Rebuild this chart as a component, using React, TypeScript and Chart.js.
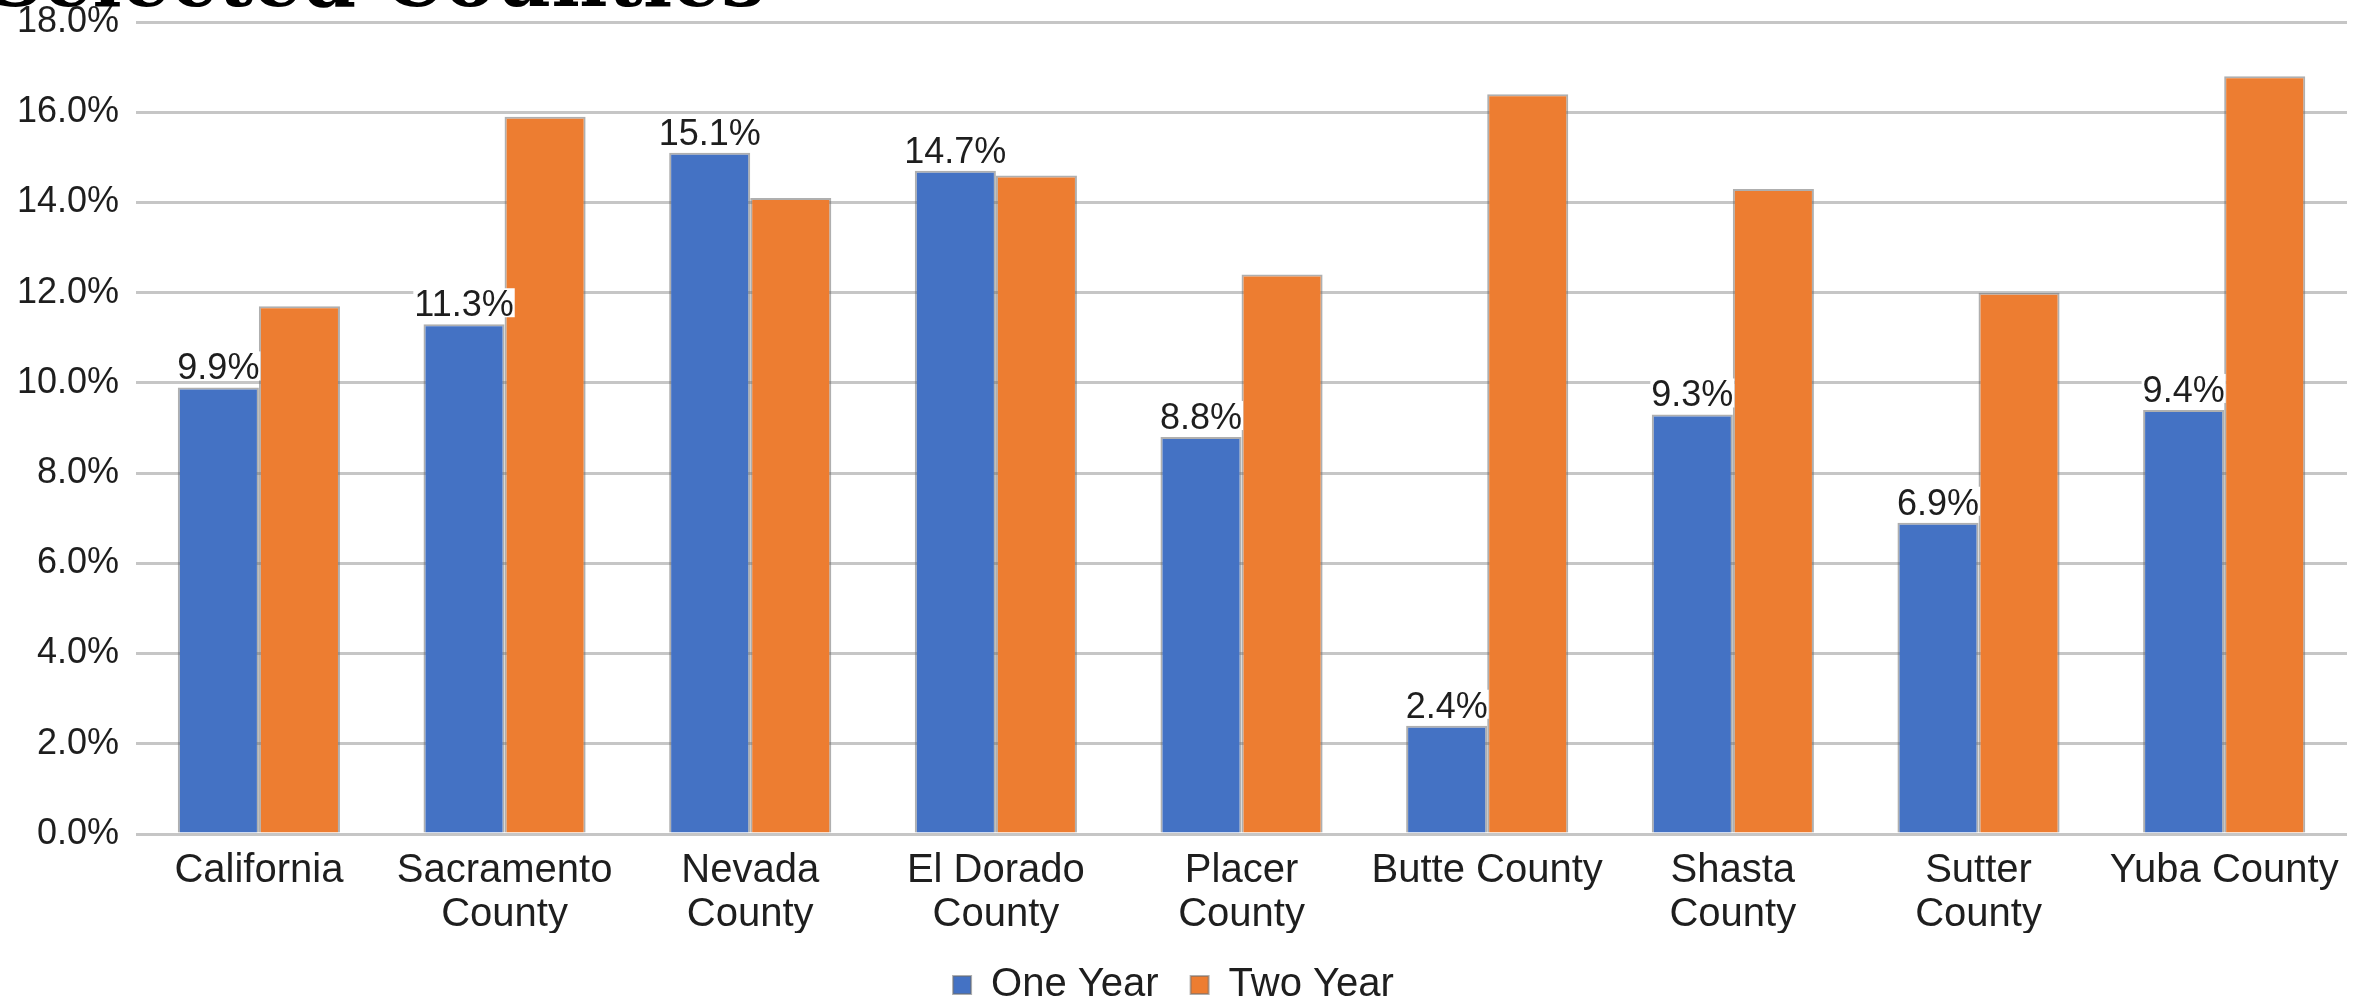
import React, { useEffect, useRef } from "react";
import { Chart, registerables } from "chart.js";

Chart.register(...registerables);

const categories = [
  "California",
  ["Sacramento", "County"],
  ["Nevada", "County"],
  ["El Dorado", "County"],
  ["Placer", "County"],
  "Butte County",
  ["Shasta", "County"],
  ["Sutter", "County"],
  "Yuba County",
];
const oneYear = [9.9, 11.3, 15.1, 14.7, 8.8, 2.4, 9.3, 6.9, 9.4];
const twoYear = [11.7, 15.9, 14.1, 14.6, 12.4, 16.4, 14.3, 12.0, 16.8];
const yTickLabels = ["0.0%", "2.0%", "4.0%", "6.0%", "8.0%", "10.0%", "12.0%", "14.0%", "16.0%", "18.0%"];

const FONT = "'Liberation Sans', Arial, sans-serif";
const TEXT = "#1e1e1e";

// labels above the blue bars, on a white box like the original
const barLabels = {
  id: "barLabels",
  afterDatasetsDraw(chart: any) {
    const ctx = chart.ctx;
    const meta = chart.getDatasetMeta(0);
    ctx.save();
    ctx.font = `36px ${FONT}`;
    ctx.textAlign = "center";
    ctx.textBaseline = "alphabetic";
    meta.data.forEach((bar: any, i: number) => {
      const txt = oneYear[i].toFixed(1) + "%";
      const w = ctx.measureText(txt).width;
      const base = bar.y - 8;
      ctx.fillStyle = "#fff";
      ctx.fillRect(bar.x - w / 2 - 1, base - 28, w + 2, 29);
      ctx.fillStyle = TEXT;
      ctx.fillText(txt, bar.x, base);
    });
    ctx.restore();
  },
};

// legend sits tight against the bottom edge
const legendFit = {
  id: "legendFit",
  beforeInit(chart: any) {
    const fit = chart.legend.fit;
    chart.legend.fit = function () {
      fit.call(this);
      this.height -= 18;
    };
  },
};

const App = () => {
  const canvasRef = useRef<HTMLCanvasElement | null>(null);
  const chartRef = useRef<Chart | null>(null);

  useEffect(() => {
    if (chartRef.current) chartRef.current.destroy();
    const ctx = canvasRef.current?.getContext("2d");
    if (!ctx) return;

    chartRef.current = new Chart(ctx, {
      type: "bar",
      data: {
        labels: categories,
        datasets: [
          {
            label: "One Year",
            data: oneYear,
            backgroundColor: "#4472C4",
            borderColor: "rgba(110,110,110,0.55)",
            borderWidth: 2,
            categoryPercentage: 0.66,
            barPercentage: 1.0,
          },
          {
            label: "Two Year",
            data: twoYear,
            backgroundColor: "#ED7D31",
            borderColor: "rgba(110,110,110,0.55)",
            borderWidth: 2,
            categoryPercentage: 0.66,
            barPercentage: 1.0,
          },
        ],
      },
      options: {
        responsive: true,
        maintainAspectRatio: false,
        animation: false,
        devicePixelRatio: 1,
        layout: { padding: { left: 0, right: 19, top: 0, bottom: 0 } },
        plugins: {
          legend: {
            position: "bottom",
            labels: {
              color: TEXT,
              font: { family: FONT, size: 40 },
              boxWidth: 18,
              boxHeight: 18,
              padding: 32,
            },
          },
          tooltip: { enabled: false },
        },
        scales: {
          x: {
            grid: { display: false, drawTicks: false },
            border: { display: false },
            ticks: {
              color: TEXT,
              font: { family: FONT, size: 40, lineHeight: 1.1 },
              padding: 15,
              maxRotation: 0,
              autoSkip: false,
            },
            afterFit: (s: any) => {
              s.height = 99;
            },
          },
          y: {
            min: 0,
            max: 18,
            border: { display: false },
            grid: { color: "#c6c6c6", lineWidth: 3, drawTicks: false },
            ticks: {
              stepSize: 2,
              color: TEXT,
              font: { family: FONT, size: 36 },
              padding: 17,
              callback: (_v: any, i: number) => yTickLabels[i],
            },
            afterFit: (s: any) => {
              s.paddingTop = 22;
              s.paddingBottom = 22;
            },
          },
        },
      },
      plugins: [barLabels, legendFit],
    });

    return () => {
      if (chartRef.current) chartRef.current.destroy();
    };
  }, []);

  return (
    <div
      style={{
        position: "fixed",
        left: 0,
        top: 0,
        width: 2366,
        height: 997,
        background: "#fff",
        overflow: "hidden",
      }}
    >
      <canvas ref={canvasRef}></canvas>
      <div
        style={{
          position: "absolute",
          left: -12,
          top: -59,
          fontFamily: "'DejaVu Serif', serif",
          fontWeight: "bold",
          fontSize: 77,
          lineHeight: 1,
          color: "#000",
          whiteSpace: "nowrap",
        }}
      >
        Selected Counties
      </div>
    </div>
  );
};

export default App;
